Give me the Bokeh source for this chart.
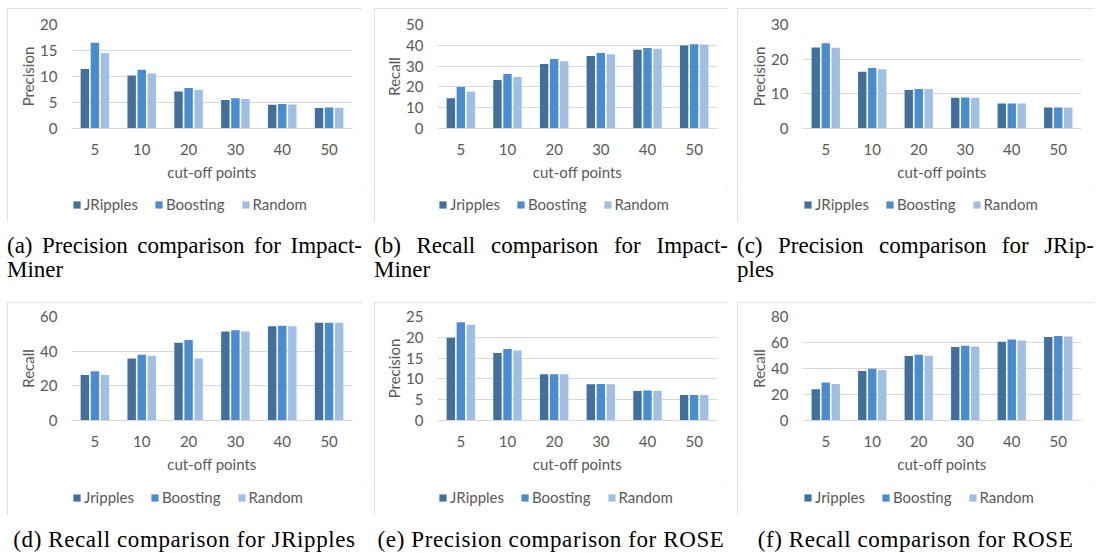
from bokeh.plotting import figure
from bokeh.models import Range1d, FixedTicker, Legend, LegendItem, Div, Spacer, ColumnDataSource
from bokeh.transform import dodge
from bokeh.layouts import row, column
from bokeh.embed import file_html
from bokeh.resources import INLINE

# ---------------- data ----------------
cutoffs = ["5", "10", "20", "30", "40", "50"]

# (a) Precision, Impact-Miner
a_jripples = [11.45, 10.2, 7.1, 5.5, 4.55, 3.95]
a_boosting = [16.5, 11.3, 7.8, 5.8, 4.7, 4.05]
a_random = [14.45, 10.6, 7.45, 5.65, 4.6, 4.0]
a_ticks = [0, 5, 10, 15, 20]

# (b) Recall, Impact-Miner
b_jripples = [14.6, 23.3, 31.0, 34.9, 37.9, 39.9]
b_boosting = [19.9, 26.2, 33.4, 36.3, 38.7, 40.5]
b_random = [17.8, 24.8, 32.3, 35.7, 38.4, 40.4]
b_ticks = [0, 10, 20, 30, 40, 50]

# (c) Precision, JRipples
c_jripples = [23.4, 16.4, 11.1, 8.87, 7.23, 6.08]
c_boosting = [24.6, 17.45, 11.4, 8.97, 7.23, 6.08]
c_random = [23.3, 17.07, 11.4, 8.87, 7.23, 6.08]
c_ticks = [0, 10, 20, 30]

# (d) Recall, JRipples
d_jripples = [26.3, 35.8, 44.9, 51.4, 54.4, 56.4]
d_boosting = [28.4, 38.0, 46.4, 52.1, 54.6, 56.4]
d_random = [26.3, 37.4, 35.8, 51.4, 54.4, 56.4]
d_ticks = [0, 20, 40, 60]

# (e) Precision, ROSE
e_jripples = [19.9, 16.2, 11.1, 8.7, 7.1, 6.1]
e_boosting = [23.6, 17.2, 11.1, 8.8, 7.2, 6.1]
e_random = [23.0, 16.8, 11.1, 8.7, 7.1, 6.1]
e_ticks = [0, 5, 10, 15, 20, 25]

# (f) Recall, ROSE
f_jripples = [24.0, 38.1, 49.6, 56.5, 60.6, 64.2]
f_boosting = [29.2, 39.9, 50.6, 57.5, 62.4, 65.0]
f_random = [28.1, 38.9, 49.9, 57.0, 61.6, 64.7]
f_ticks = [0, 20, 40, 60, 80]

series_names_upper = ["JRipples", "Boosting", "Random"]
series_names_lower = ["Jripples", "Boosting", "Random"]

captions_top = [
    ("(a) Precision comparison for Impact-", "Miner"),
    ("(b) Recall comparison for Impact-", "Miner"),
    ("(c) Precision comparison for JRip-", "ples"),
]
captions_bottom = [
    "(d) Recall comparison for JRipples",
    "(e) Precision comparison for ROSE",
    "(f) Recall comparison for ROSE",
]

# ---------------- style ----------------
COLORS = ["#41709E", "#4A8CD0", "#A1BFE5"]
GRID = "#d9d9d9"
TXT = "#595959"
FONT = "Lato"
FS = "15px"
# per column: (left border, frame width, right border)
COLS = [(64, 281, 10), (63, 280, 11), (65, 279, 13)]
FRAME_H = 104


def panel(col, ylabel, names, ticks, j, b, r, top, bottom):
    lb, fw, rb = COLS[col]
    src = ColumnDataSource(dict(cut=cutoffs, j=j, b=b, r=r))
    p = figure(x_range=cutoffs, y_range=Range1d(0, ticks[-1]),
               frame_width=fw, frame_height=FRAME_H,
               output_backend="svg", toolbar_location=None,
               min_border_left=lb, min_border_right=rb, min_border_top=top,
               min_border_bottom=bottom,
               outline_line_color=None, background_fill_color="white",
               border_fill_color="white")
    for off, key, c in zip([-0.215, 0.0, 0.215], ["j", "b", "r"], COLORS):
        p.vbar(x=dodge("cut", off, range=p.x_range), top=key, width=0.18,
               source=src, fill_color=c, line_color=None)
    p.xgrid.grid_line_color = None
    p.ygrid.grid_line_color = GRID
    p.ygrid.grid_line_width = 1
    p.yaxis.ticker = FixedTicker(ticks=ticks)
    for ax in (p.xaxis[0], p.yaxis[0]):
        ax.major_tick_line_color = None
        ax.minor_tick_line_color = None
        ax.major_label_text_font = FONT
        ax.major_label_text_font_size = FS
        ax.major_label_text_color = TXT
        ax.axis_label_text_font = FONT
        ax.axis_label_text_font_size = FS
        ax.axis_label_text_color = TXT
        ax.axis_label_text_font_style = "normal"
        ax.major_tick_out = 0
        ax.major_tick_in = 0
    p.yaxis.axis_line_color = None
    p.xaxis.axis_line_color = GRID
    p.yaxis.axis_label = ylabel
    p.xaxis.axis_label = "cut-off points"
    p.yaxis.major_label_standoff = 14
    p.yaxis.axis_label_standoff = 0
    p.xaxis.major_label_standoff = 15
    p.xaxis.axis_label_standoff = 5
    p.x_range.range_padding = 0

    # legend strip below the chart (its frame aligns with the chart frame)
    lw = lb + fw + rb
    lg = figure(width=lw, height=34, x_range=Range1d(0, 1), y_range=Range1d(0, 1),
                output_backend="svg", toolbar_location=None,
                x_axis_type=None, y_axis_type=None,
                min_border=0, outline_line_color=None,
                background_fill_color="white", border_fill_color="white")
    lg.grid.visible = False
    keys = [lg.vbar(x=[0.5], top=[0], bottom=[0], width=0.1, fill_color=c, line_color=None)
            for c in COLORS]
    items = [LegendItem(label=n, renderers=[rr]) for n, rr in zip(names, keys)]
    leg = Legend(items=items, orientation="horizontal", location=(1, 8),
                 border_line_color=None, background_fill_alpha=0, padding=0, margin=0,
                 spacing=16, glyph_width=9, glyph_height=9, label_standoff=3,
                 label_text_font=FONT, label_text_font_size=FS, label_text_color=TXT,
                 label_height=20)
    lg.add_layout(leg, "center")
    box = column(p, lg, styles={"outline": "1px solid #d9d9d9", "outline-offset": "-1px"})
    return box


fa = panel(0, "Precision", series_names_upper, a_ticks, a_jripples, a_boosting, a_random, 16, 60)
fb = panel(1, "Recall", series_names_lower, b_ticks, b_jripples, b_boosting, b_random, 16, 60)
fc = panel(2, "Precision", series_names_upper, c_ticks, c_jripples, c_boosting, c_random, 16, 60)
fd = panel(0, "Recall", series_names_lower, d_ticks, d_jripples, d_boosting, d_random, 14, 61)
fe = panel(1, "Precision", series_names_upper, e_ticks, e_jripples, e_boosting, e_random, 14, 61)
ff = panel(2, "Recall", series_names_lower, f_ticks, f_jripples, f_boosting, f_random, 14, 61)

CAP = "font-family:'Liberation Serif',serif;color:#000;white-space:nowrap;"


def cap_top(i, l1, l2):
    w = sum(COLS[i])
    html = (f'<div style="{CAP}font-size:23px;line-height:24px;padding-top:12px;width:{w}px">'
            f'<div style="text-align:justify;text-align-last:justify;word-spacing:-2px">{l1}</div>'
            f'<div>{l2}</div></div>')
    return Div(text=html, width=w, height=80, margin=0)


def cap_bottom(i, t):
    w = sum(COLS[i])
    html = (f'<div style="{CAP}font-size:23px;line-height:24px;padding-top:13px;width:{w}px;'
            f'text-align:center;letter-spacing:0.6px">{t}</div>')
    return Div(text=html, width=w, height=38, margin=0)


def hrow(items):
    return row(Spacer(width=7), items[0], Spacer(width=12), items[1], Spacer(width=9), items[2])


r1 = hrow([fa, fb, fc])
r2 = hrow([cap_top(i, *c) for i, c in enumerate(captions_top)])
r3 = hrow([fd, fe, ff])
r4 = hrow([cap_bottom(i, t) for i, t in enumerate(captions_bottom)])
layout = column(Spacer(height=8), r1, r2, r3, r4)

open("out.html", "w").write(file_html(layout, INLINE))
